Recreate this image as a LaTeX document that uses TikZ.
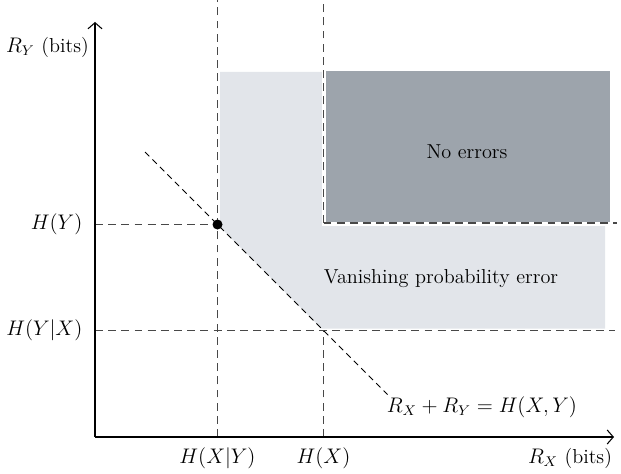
\documentclass[tikz,border=0pt]{standalone}
\usepackage{tikz}
\usetikzlibrary{arrows.meta}
\definecolor{lightregion}{HTML}{E2E5EA}
\definecolor{darkregion}{HTML}{9DA4AC}
\definecolor{gridgray}{HTML}{484848}

\begin{document}
\begin{tikzpicture}[font=\fontsize{11.5}{14}\selectfont,
    gridline/.style={gridgray, line width=0.85pt, dash pattern=on 4.5pt off 3pt},
    sumline/.style={black, line width=0.5pt, dash pattern=on 3.5pt off 2.5pt},
    axis/.style={line width=0.6pt, -{Straight Barb[length=3.5pt,width=8pt]}}]
    \useasboundingbox (-1.9,-0.72) rectangle (10.52,8.74);

    % Key points
    \coordinate (O) at (0,0);
    \coordinate (hxy) at (2.45,0);
    \coordinate (hx) at (4.57,0);
    \coordinate (hyx) at (0,2.13);
    \coordinate (hy) at (0,4.25);
    \coordinate (corner) at (2.45,4.25);

    % Shaded Regions
    \fill[lightregion] (2.5,7.3) -- (10.2,7.3) -- (10.2,2.17) -- (4.53,2.17) -- (2.5,4.2) -- cycle;
    \fill[white] (4.54,4.22) rectangle (10.3,7.32);
    \fill[darkregion] (4.62,4.31) rectangle (10.3,7.32);

    % Draw Dashed Lines
    \draw[gridline] (hxy) -- (2.45,8.74);
    \draw[gridline] (hx) -- (4.57,2.13);
    \draw[gridline] (4.57,4.28) -- (4.57,8.74);
    \draw[gridline] (hy) -- (corner);
    \draw[gridline] (hyx) -- (10.4,2.13);
    \draw[gridline] (4.57,4.28) -- (10.44,4.28);
    \draw[sumline] (1.0,5.7) -- (5.85,0.85);

    % Draw Axes
    \draw[axis] (O) -- (10.38,0);
    \draw[axis] (O) -- (0,8.3);

    % Corner Point
    \fill (corner) circle (0.1);

    % Axis Labels
    % -- left side
    \node[anchor=east] (lhy) at (-0.13,4.25) {$H(Y)$};
    \node[anchor=east] (lhyx) at (-0.13,2.13) {$H(Y|X)$};
    \node (lry) at (-0.95,7.8) {$R_Y$ (bits)};

    % -- bottom side
    \node (lhxy) at (2.45,-0.42) {$H(X|Y)$};
    \node (lhx) at (4.57,-0.42) {$H(X)$};
    \node (lrx) at (9.5,-0.42) {$R_X$ (bits)};

    % Region Labels
    \node (noerr) at (7.44,5.7) {No errors};
    \node (vanish) at (6.92,3.16) {Vanishing probability error};
    \node (sum) at (7.74,0.6) {$R_X + R_Y = H(X,Y)$};
\end{tikzpicture}
\end{document}
